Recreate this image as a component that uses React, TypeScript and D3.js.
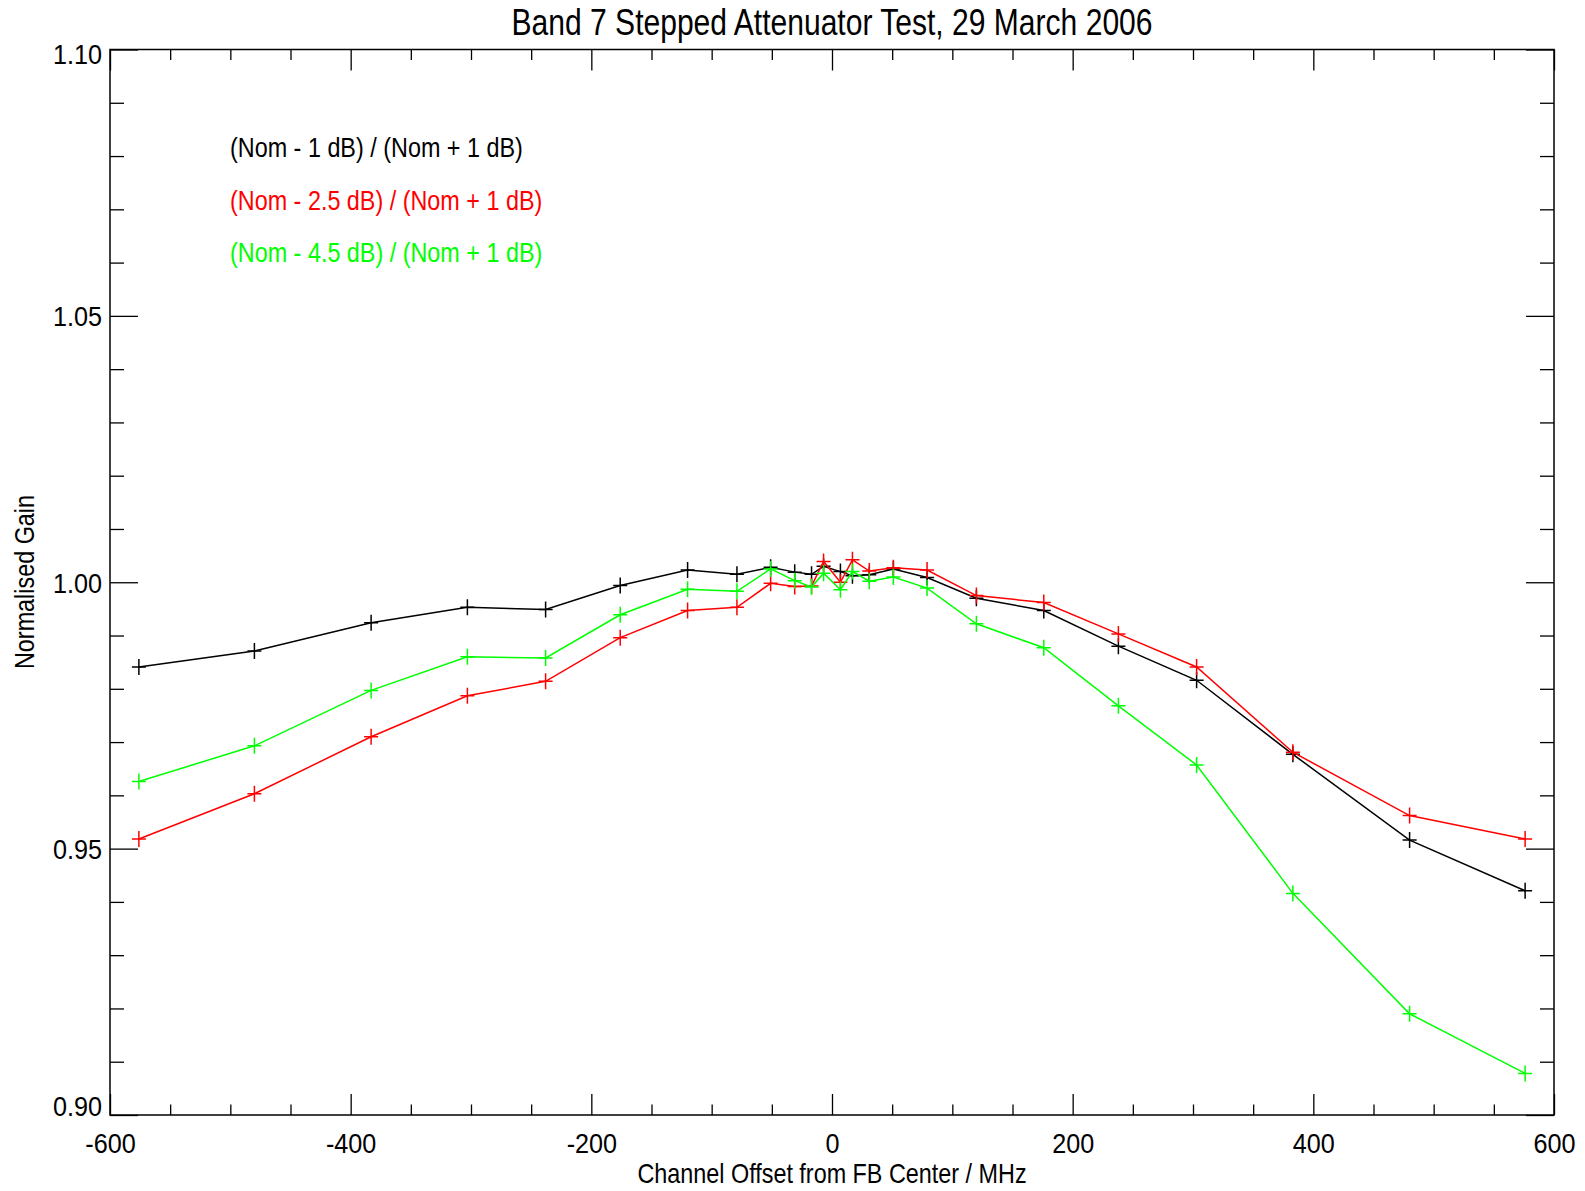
import React, { useRef, useEffect } from 'react';
import { select, axisBottom, axisTop, axisLeft, axisRight, scaleLinear, line, range } from 'd3';

// channel offsets (MHz) shared by all three ratios
const offsets = [-576, -480, -383, -303, -238, -176, -120, -79, -51, -31, -17, -7, 7, 17, 31, 51, 79, 120, 176, 238, 303, 383, 480, 576];

const gainNom1 = [0.9841, 0.9871, 0.9924, 0.9953, 0.9949, 0.9994, 1.0023, 1.0015, 1.0028, 1.0019, 1.0015, 1.0030, 1.0020, 1.0012, 1.0014, 1.0025, 1.0009, 0.9970, 0.9947, 0.9880, 0.9816, 0.9677, 0.9516, 0.9421];
const gainNom25 = [0.9518, 0.9603, 0.9710, 0.9787, 0.9814, 0.9896, 0.9947, 0.9953, 0.9998, 0.9992, 0.9993, 1.0039, 1.0000, 1.0042, 1.0021, 1.0027, 1.0023, 0.9975, 0.9962, 0.9903, 0.9841, 0.9681, 0.9562, 0.9518];
const gainNom45 = [0.9626, 0.9693, 0.9797, 0.9860, 0.9858, 0.9939, 0.9987, 0.9983, 1.0025, 1.0003, 0.9991, 1.0017, 0.9986, 1.0020, 1.0002, 1.0010, 0.9989, 0.9922, 0.9877, 0.9768, 0.9657, 0.9416, 0.9190, 0.9078];

const seriesNames = ['(Nom - 1 dB) / (Nom + 1 dB)', '(Nom - 2.5 dB) / (Nom + 1 dB)', '(Nom - 4.5 dB) / (Nom + 1 dB)'];
const seriesColors = ['#000000', '#ff0000', '#00ff00'];

const xTicks = [-600, -400, -200, 0, 200, 400, 600];
const xTickLabels = ['-600', '-400', '-200', '0', '200', '400', '600'];
const yTicks = [0.9, 0.95, 1.0, 1.05, 1.1];
const yTickLabels = ['0.90', '0.95', '1.00', '1.05', '1.10'];

const FONT = "'Liberation Sans', Arial, sans-serif";
// the original font is a condensed helvetica, squeeze the text horizontally
const SQUEEZE = 0.835;
const TICK_SQUEEZE = 0.9;

function App() {
    const svgRef = useRef(null);

    useEffect(() => {
        const svg = select(svgRef.current);
        const left = 110, right = 1554, top = 49.5, bottom = 1115;

        const xScale = scaleLinear().domain([-600, 600]).range([left, right]);
        const yScale = scaleLinear().domain([0.9, 1.1]).range([bottom, top]);

        const minorX = range(-600, 601, 50).filter(v => !xTicks.includes(v));
        const minorY = range(90, 111).map(v => v / 100).filter(v => !yTicks.some(t => Math.abs(t - v) < 1e-6));

        const clean = g => {
            g.select('.domain').remove();
            g.attr('font-family', FONT).attr('font-size', 28);
            g.selectAll('line').attr('stroke', '#000').attr('stroke-width', 1.3);
        };

        // ticks on all four sides, pointing inward
        svg.select('.x-bottom-minor').attr('transform', `translate(0,${bottom})`)
            .call(axisBottom(xScale).tickValues(minorX).tickSize(-10.5).tickFormat(() => '')).call(clean);
        svg.select('.x-bottom').attr('transform', `translate(0,${bottom})`)
            .call(axisBottom(xScale).tickValues(xTicks).tickSize(-21).tickPadding(18)
                .tickFormat((d, i) => xTickLabels[i])).call(clean);
        svg.select('.x-bottom').selectAll('text').attr('transform', `scale(${TICK_SQUEEZE},1)`);
        svg.select('.x-top-minor').attr('transform', `translate(0,${top})`)
            .call(axisTop(xScale).tickValues(minorX).tickSize(-10.5).tickFormat(() => '')).call(clean);
        svg.select('.x-top').attr('transform', `translate(0,${top})`)
            .call(axisTop(xScale).tickValues(xTicks).tickSize(-21).tickFormat(() => '')).call(clean);

        svg.select('.y-left-minor').attr('transform', `translate(${left},0)`)
            .call(axisLeft(yScale).tickValues(minorY).tickSize(-14).tickFormat(() => '')).call(clean);
        svg.select('.y-left').attr('transform', `translate(${left},0)`)
            .call(axisLeft(yScale).tickValues(yTicks).tickSize(-28).tickPadding(8)
                .tickFormat((d, i) => yTickLabels[i])).call(clean);
        svg.select('.y-left').selectAll('text')
            .attr('x', -8 / TICK_SQUEEZE)
            .attr('transform', `scale(${TICK_SQUEEZE},1)`)
            .attr('dy', (d, i) => i === 0 ? '0em' : i === yTicks.length - 1 ? '0.5em' : '0.35em');
        svg.select('.y-right-minor').attr('transform', `translate(${right},0)`)
            .call(axisRight(yScale).tickValues(minorY).tickSize(-14).tickFormat(() => '')).call(clean);
        svg.select('.y-right').attr('transform', `translate(${right},0)`)
            .call(axisRight(yScale).tickValues(yTicks).tickSize(-28).tickFormat(() => '')).call(clean);

        svg.select('.frame')
            .attr('x', left).attr('y', top)
            .attr('width', right - left).attr('height', bottom - top);

        const series = [gainNom1, gainNom25, gainNom45];
        const lineGen = line().x((d, i) => xScale(offsets[i])).y(d => yScale(d));

        svg.select('.series')
            .selectAll('g')
            .data(series)
            .join('g')
            .each(function (values, s) {
                const g = select(this);
                g.selectAll('path.trace')
                    .data([values])
                    .join('path')
                    .attr('class', 'trace')
                    .attr('d', lineGen)
                    .attr('fill', 'none')
                    .attr('stroke', seriesColors[s])
                    .attr('stroke-width', 1.5);
                g.selectAll('path.mark')
                    .data(values)
                    .join('path')
                    .attr('class', 'mark')
                    .attr('transform', (d, i) => `translate(${xScale(offsets[i])},${yScale(d)})`)
                    .attr('d', 'M-7,0H7M0,-8V8')
                    .attr('stroke', seriesColors[s])
                    .attr('stroke-width', 1.5);
            });

        svg.select('.legend')
            .selectAll('text')
            .data(seriesNames)
            .join('text')
            .attr('transform', (d, i) => `translate(230,${157 + i * 52.5}) scale(${SQUEEZE},1)`)
            .attr('fill', (d, i) => seriesColors[i])
            .attr('font-size', 28)
            .text(d => d);
    }, []);

    return <svg ref={svgRef} width={1585} height={1191}
        style={{ position: 'absolute', left: 0, top: 0, background: '#fff' }}
        fontFamily={FONT}>
        <rect x={0} y={0} width={1585} height={1191} fill="#fff" />
        <g className="series" />
        <g className="x-bottom-minor" />
        <g className="x-bottom" />
        <g className="x-top-minor" />
        <g className="x-top" />
        <g className="y-left-minor" />
        <g className="y-left" />
        <g className="y-right-minor" />
        <g className="y-right" />
        <rect className="frame" fill="none" stroke="#000" strokeWidth={1.5} />
        <g className="legend" />
        <text transform={`translate(832,35) scale(${SQUEEZE},1)`} textAnchor="middle" fontSize={36}>Band 7 Stepped Attenuator Test, 29 March 2006</text>
        <text transform={`translate(832,1183) scale(${SQUEEZE},1)`} textAnchor="middle" fontSize={28}>Channel Offset from FB Center / MHz</text>
        <text transform={`translate(34,582) rotate(-90) scale(${SQUEEZE},1)`} textAnchor="middle" fontSize={28}>Normalised Gain</text>
    </svg>;
}

export default App;
